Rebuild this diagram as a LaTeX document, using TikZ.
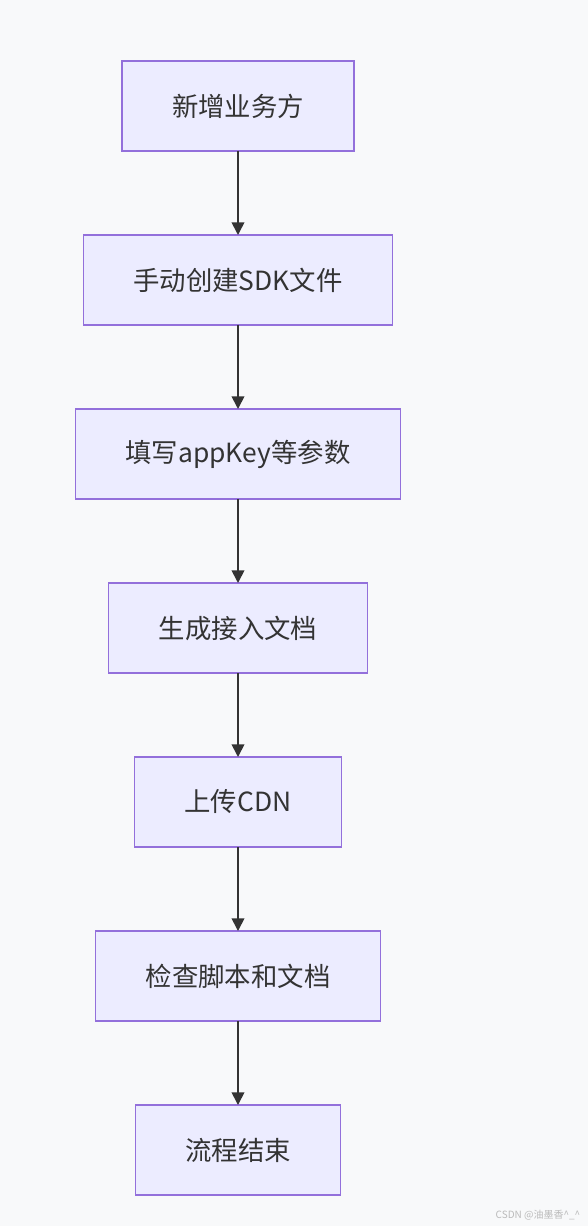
\documentclass[tikz,border=0pt]{standalone}
\usepackage{fontspec}
\setmainfont{Noto Sans CJK SC}
\usepackage{tikz}
\usetikzlibrary{arrows.meta, positioning}
\definecolor{bgpage}{HTML}{F8F9FA}
\definecolor{stepfill}{HTML}{ECECFF}
\definecolor{stepline}{HTML}{9370DB}
\definecolor{flowline}{HTML}{333333}
\definecolor{marktext}{HTML}{BBBBBB}

\begin{document}
\begin{tikzpicture}[
    x=0.75pt, y=-0.75pt,
    stepbox/.style={draw=stepline, line width=1pt, fill=stepfill,
                inner xsep=37.5pt, minimum height=67.5pt, outer sep=0pt,
                align=center, font=\fontsize{19.8}{22}\selectfont, text=flowline},
    arrow/.style={-{Triangle[width=9.5pt, length=9.5pt]}, line width=1.3pt, color=flowline},
    node distance=63pt,
]
    \fill[bgpage] (0,0) rectangle (588,1226);
    \useasboundingbox (0,0) rectangle (588,1226);

    \node[stepbox] (add) at (238,106) {新增业务方};
    \node[stepbox, below=of add]    (sdk)    {手动创建SDK文件};
    \node[stepbox, below=of sdk]    (param)  {填写appKey等参数};
    \node[stepbox, below=of param]  (doc)    {生成接入文档};
    \node[stepbox, below=of doc]    (cdn)    {上传CDN};
    \node[stepbox, below=of cdn]    (check)  {检查脚本和文档};
    \node[stepbox, below=of check]  (finish) {流程结束};

    \node[anchor=east, text=marktext, font=\fontsize{7.5}{9}\selectfont] (mark) at (585,1215) {CSDN @油墨香\textasciicircum\_\textasciicircum};

    \foreach \a/\b in {add/sdk, sdk/param, param/doc, doc/cdn, cdn/check, check/finish}
        \draw[arrow] (\a) -- (\b);
\end{tikzpicture}
\end{document}
